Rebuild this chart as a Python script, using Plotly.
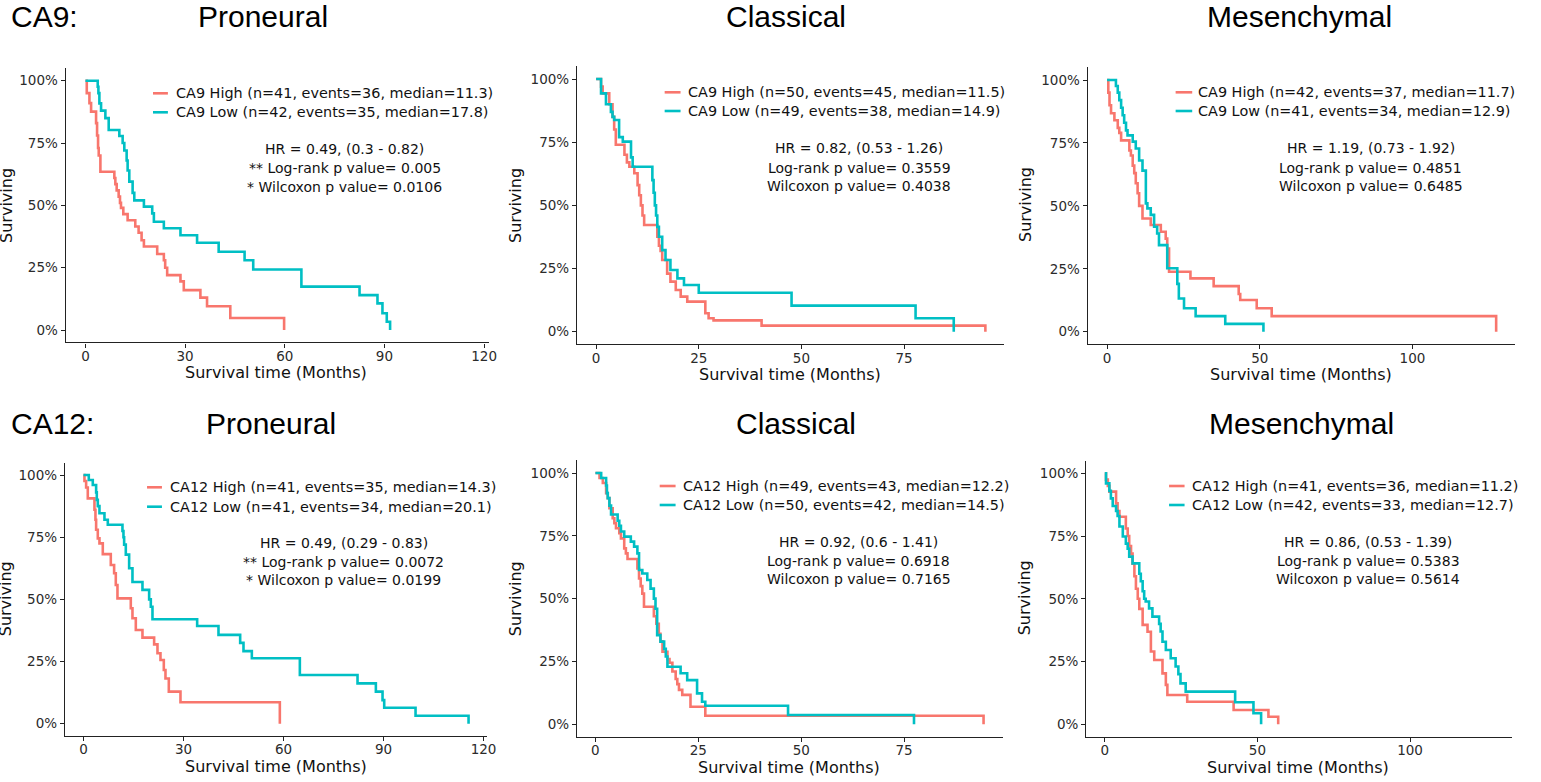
import plotly.graph_objects as go

W, H = 1541, 782
RED, TEAL = "#F8766D", "#00BFC4"

# ---------------- data (months, survival fraction) ----------------
# CA9 - Proneural
ca9_pn_high_t = [0, 0.4, 1.2, 1.7, 3.2, 3.5, 3.8, 4.0, 4.5, 8.7, 9.0, 9.4, 10.0, 10.4, 10.7, 11.4, 12.7, 15.0, 16.0, 16.9, 17.6, 21.6, 23.6, 24.0, 24.6, 28.6, 29.6, 34.6, 36.6, 43.6, 59.8]
ca9_pn_high_s = [1, 0.95, 0.91, 0.876, 0.83, 0.78, 0.73, 0.70, 0.635, 0.61, 0.585, 0.56, 0.535, 0.51, 0.49, 0.465, 0.44, 0.415, 0.39, 0.36, 0.335, 0.305, 0.28, 0.25, 0.22, 0.195, 0.16, 0.13, 0.095, 0.048, 0.0]
ca9_pn_low_t = [0, 3.7, 3.9, 4.2, 4.7, 6.0, 7.0, 10.2, 11.2, 11.7, 12.4, 12.7, 13.2, 14.2, 14.7, 17.6, 20.1, 20.6, 23.6, 28.6, 33.6, 40.1, 47.9, 50.5, 65.0, 82.5, 87.9, 89.4, 90.7, 91.7]
ca9_pn_low_s = [1, 0.976, 0.95, 0.909, 0.88, 0.85, 0.802, 0.778, 0.75, 0.72, 0.68, 0.64, 0.595, 0.55, 0.52, 0.495, 0.468, 0.434, 0.408, 0.38, 0.35, 0.314, 0.28, 0.243, 0.174, 0.14, 0.107, 0.067, 0.033, 0.0]
# CA9 - Classical
ca9_cl_high_t = [0, 1.2, 1.6, 3.2, 4.0, 4.4, 4.8, 6.9, 7.5, 8.1, 9.3, 10.1, 10.5, 10.9, 11.3, 11.7, 14.9, 15.3, 15.7, 16.1, 17.3, 18.1, 19.4, 20.6, 22.2, 26.6, 27.4, 28.6, 40.3, 94.8]
ca9_cl_high_s = [1, 0.97, 0.943, 0.90, 0.85, 0.80, 0.74, 0.70, 0.67, 0.653, 0.627, 0.58, 0.54, 0.50, 0.46, 0.422, 0.376, 0.34, 0.32, 0.284, 0.23, 0.198, 0.165, 0.139, 0.119, 0.073, 0.053, 0.045, 0.024, 0.0]
ca9_cl_low_t = [0, 1.2, 2.4, 3.6, 4.0, 4.4, 5.6, 6.5, 8.5, 8.9, 13.7, 14.0, 14.3, 14.6, 14.9, 15.3, 16.1, 16.9, 18.1, 19.8, 21.4, 25.0, 47.6, 77.8, 87.1]
ca9_cl_low_s = [1, 0.943, 0.90, 0.87, 0.85, 0.838, 0.77, 0.752, 0.69, 0.653, 0.60, 0.55, 0.50, 0.46, 0.415, 0.376, 0.323, 0.284, 0.244, 0.211, 0.185, 0.154, 0.103, 0.053, 0.0]
# CA9 - Mesenchymal
ca9_me_high_t = [0, 0.4, 0.8, 1.3, 2.4, 3.5, 4.0, 4.6, 7.3, 7.8, 8.4, 8.9, 9.4, 10.0, 10.5, 11.6, 14.3, 17.6, 19.2, 19.7, 20.3, 27.3, 34.9, 43.1, 43.6, 49.0, 53.9, 127.4]
ca9_me_high_s = [1, 0.95, 0.90, 0.868, 0.84, 0.81, 0.79, 0.76, 0.72, 0.70, 0.66, 0.63, 0.59, 0.55, 0.50, 0.45, 0.424, 0.397, 0.37, 0.33, 0.238, 0.212, 0.181, 0.15, 0.126, 0.093, 0.062, 0.0]
ca9_me_low_t = [0, 2.9, 3.5, 4.0, 4.6, 5.1, 5.6, 6.2, 6.7, 8.4, 9.4, 10.5, 11.6, 12.7, 13.2, 14.3, 15.4, 16.4, 17.0, 19.7, 23.0, 23.5, 25.2, 29.0, 38.7, 51.2]
ca9_me_low_s = [1, 0.976, 0.95, 0.92, 0.89, 0.86, 0.83, 0.80, 0.78, 0.755, 0.728, 0.68, 0.64, 0.51, 0.49, 0.464, 0.417, 0.39, 0.344, 0.252, 0.19, 0.132, 0.093, 0.062, 0.031, 0.0]
# CA12 - Proneural
ca12_pn_high_t = [0, 0.3, 0.8, 1.3, 3.3, 3.6, 3.8, 4.3, 4.8, 5.8, 8.2, 9.2, 9.7, 10.2, 14.2, 14.7, 15.7, 17.7, 21.2, 22.2, 23.1, 24.1, 24.6, 25.6, 29.1, 58.9]
ca12_pn_high_s = [1, 0.976, 0.95, 0.906, 0.86, 0.82, 0.78, 0.745, 0.725, 0.682, 0.638, 0.605, 0.558, 0.504, 0.464, 0.424, 0.377, 0.346, 0.319, 0.283, 0.256, 0.216, 0.182, 0.129, 0.086, 0.0]
ca12_pn_low_t = [0, 1.6, 2.8, 3.8, 4.0, 4.3, 4.8, 6.3, 7.3, 11.7, 12.0, 12.2, 12.7, 13.7, 14.7, 17.7, 19.7, 20.2, 20.7, 34.1, 40.5, 47.0, 48.0, 50.5, 64.9, 82.2, 87.7, 89.7, 90.2, 99.6, 115.5]
ca12_pn_low_s = [1, 0.98, 0.96, 0.93, 0.90, 0.875, 0.846, 0.82, 0.80, 0.775, 0.75, 0.72, 0.68, 0.625, 0.57, 0.538, 0.50, 0.47, 0.42, 0.393, 0.357, 0.325, 0.292, 0.263, 0.196, 0.162, 0.129, 0.095, 0.064, 0.032, 0.0]
# CA12 - Classical
ca12_cl_high_t = [0, 1.0, 1.8, 2.6, 3.0, 3.4, 4.2, 4.6, 5.0, 5.8, 6.2, 7.0, 7.4, 7.8, 10.2, 10.6, 11.0, 11.4, 11.8, 14.2, 14.8, 15.4, 15.8, 16.3, 17.5, 18.0, 18.7, 19.5, 19.9, 20.3, 21.1, 23.1, 26.7, 94.3]
ca12_cl_high_s = [1, 0.98, 0.96, 0.92, 0.90, 0.86, 0.82, 0.80, 0.78, 0.76, 0.74, 0.70, 0.68, 0.658, 0.62, 0.58, 0.55, 0.52, 0.468, 0.43, 0.40, 0.36, 0.33, 0.289, 0.26, 0.245, 0.21, 0.18, 0.16, 0.137, 0.117, 0.07, 0.034, 0.0]
ca12_cl_low_t = [0, 1.4, 2.6, 2.8, 3.0, 3.4, 3.8, 5.4, 5.8, 6.2, 7.0, 8.6, 9.4, 10.2, 10.6, 11.4, 12.6, 13.4, 14.2, 14.6, 15.0, 15.8, 16.7, 17.1, 17.5, 20.7, 22.3, 24.7, 25.9, 26.7, 46.8, 77.4]
ca12_cl_low_s = [1, 0.98, 0.95, 0.92, 0.90, 0.87, 0.835, 0.81, 0.79, 0.767, 0.747, 0.727, 0.707, 0.68, 0.614, 0.60, 0.574, 0.54, 0.50, 0.46, 0.355, 0.329, 0.30, 0.27, 0.229, 0.203, 0.176, 0.123, 0.09, 0.074, 0.037, 0.0]
# CA12 - Mesenchymal
ca12_me_high_t = [0, 0.4, 1.0, 1.5, 3.7, 4.2, 4.8, 6.9, 7.5, 8.0, 8.6, 9.1, 9.7, 10.2, 10.8, 11.3, 12.4, 14.0, 15.1, 16.2, 18.9, 20.0, 20.5, 27.0, 42.2, 53.6, 56.8]
ca12_me_high_s = [1, 0.975, 0.95, 0.927, 0.88, 0.85, 0.827, 0.78, 0.75, 0.71, 0.68, 0.64, 0.59, 0.54, 0.50, 0.46, 0.396, 0.369, 0.29, 0.256, 0.203, 0.157, 0.117, 0.09, 0.057, 0.03, 0.0]
ca12_me_low_t = [0, 0.4, 1.5, 2.0, 2.6, 3.7, 4.2, 4.8, 5.9, 6.9, 7.5, 8.0, 9.1, 11.3, 11.8, 12.4, 12.9, 13.4, 14.5, 15.6, 17.8, 18.3, 18.9, 20.0, 21.6, 23.2, 24.1, 24.8, 26.5, 42.7, 48.7, 51.2]
ca12_me_low_s = [1, 0.96, 0.93, 0.90, 0.87, 0.85, 0.83, 0.788, 0.748, 0.72, 0.70, 0.668, 0.641, 0.60, 0.57, 0.53, 0.50, 0.489, 0.462, 0.429, 0.40, 0.37, 0.329, 0.296, 0.263, 0.23, 0.20, 0.163, 0.13, 0.088, 0.044, 0.0]

legend_labels = [
    ["CA9 High (n=41, events=36, median=11.3)", "CA9 Low (n=42, events=35, median=17.8)"],
    ["CA9 High (n=50, events=45, median=11.5)", "CA9 Low (n=49, events=38, median=14.9)"],
    ["CA9 High (n=42, events=37, median=11.7)", "CA9 Low (n=41, events=34, median=12.9)"],
    ["CA12 High (n=41, events=35, median=14.3)", "CA12 Low (n=41, events=34, median=20.1)"],
    ["CA12 High (n=49, events=43, median=12.2)", "CA12 Low (n=50, events=42, median=14.5)"],
    ["CA12 High (n=41, events=36, median=11.2)", "CA12 Low (n=42, events=33, median=12.7)"],
]
stats_text = [
    ["HR = 0.49, (0.3 - 0.82)", "** Log-rank p value= 0.005", "* Wilcoxon p value= 0.0106"],
    ["HR = 0.82, (0.53 - 1.26)", "Log-rank p value= 0.3559", "Wilcoxon p value= 0.4038"],
    ["HR = 1.19, (0.73 - 1.92)", "Log-rank p value= 0.4851", "Wilcoxon p value= 0.6485"],
    ["HR = 0.49, (0.29 - 0.83)", "** Log-rank p value= 0.0072", "* Wilcoxon p value= 0.0199"],
    ["HR = 0.92, (0.6 - 1.41)", "Log-rank p value= 0.6918", "Wilcoxon p value= 0.7165"],
    ["HR = 0.86, (0.53 - 1.39)", "Log-rank p value= 0.5383", "Wilcoxon p value= 0.5614"],
]
x_ticks = [[0, 30, 60, 90, 120], [0, 25, 50, 75], [0, 50, 100],
           [0, 30, 60, 90, 120], [0, 25, 50, 75], [0, 50, 100]]
y_ticks = [0, 0.25, 0.5, 0.75, 1.0]
y_tick_labels = ["0%", "25%", "50%", "75%", "100%"]
row_labels = ["CA9:", "CA12:"]
subtypes = ["Proneural", "Classical", "Mesenchymal"]

curves = [
    (ca9_pn_high_t, ca9_pn_high_s, ca9_pn_low_t, ca9_pn_low_s),
    (ca9_cl_high_t, ca9_cl_high_s, ca9_cl_low_t, ca9_cl_low_s),
    (ca9_me_high_t, ca9_me_high_s, ca9_me_low_t, ca9_me_low_s),
    (ca12_pn_high_t, ca12_pn_high_s, ca12_pn_low_t, ca12_pn_low_s),
    (ca12_cl_high_t, ca12_cl_high_s, ca12_cl_low_t, ca12_cl_low_s),
    (ca12_me_high_t, ca12_me_high_s, ca12_me_low_t, ca12_me_low_s),
]

# ---------------- layout geometry (pixels) ----------------
geo = [
    dict(left=66, right=492, x0=86, ppm=3.344, p100=80.7, p0=330.0,
         leg=(154, 169, 175, 93.3, 112.3), st=(347, 149, 168.3, 186.7), xt=(278.3, 372.5), yt=(6, 205)),
    dict(left=580.7, right=1011, x0=600, ppm=4.133, p100=79.0, p0=331.7,
         leg=(669, 685, 690, 92.3, 111.0), st=(865, 148.3, 167.7, 186.0), xt=(795.5, 374), yt=(518.3, 205)),
    dict(left=1094.7, right=1525, x0=1114.3, ppm=3.074, p100=80.0, p0=331.7,
         leg=(1183.3, 1200, 1204.3, 92.3, 111.0), st=(1379.5, 148.3, 167.7, 186.0), xt=(1309.3, 374), yt=(1031.7, 205)),
    dict(left=65.3, right=490, x0=84, ppm=3.356, p100=475.0, p0=723.7,
         leg=(148, 163, 169, 487.3, 506.7), st=(345.8, 542.7, 562.0, 580.3), xt=(277.3, 766), yt=(5, 598.3)),
    dict(left=580.7, right=1009.3, x0=599.3, ppm=4.143, p100=473.0, p0=724.3,
         leg=(664, 680, 685.7, 486.0, 505.0), st=(864.5, 542.0, 561.0, 579.3), xt=(794, 767.3), yt=(518.3, 598.3)),
    dict(left=1093.3, right=1521.7, x0=1112, ppm=3.073, p100=473.3, p0=724.3,
         leg=(1176.7, 1192.3, 1197.7, 486.0, 505.0), st=(1377, 542.0, 561.0, 579.3), xt=(1306.7, 767.3), yt=(1030.7, 598.3)),
]
TFONT = "Liberation Sans, Arial"
titles_pos = [(9, 17, "left"), (264.7, 17, "center"), (791, 17, "center"), (1308, 17, "center"),
              (9, 423, "left"), (272.3, 423, "center"), (801.5, 423, "center"), (1310, 423, "center")]

YMIN, YMAX = -0.05, 1.05
FONT = "DejaVu Sans"
AXC = "#222222"


def px(x):
    return x / W


def py(y):
    return 1 - y / H


fig = go.Figure()
annotations, shapes = [], []
layout_axes = {}

for i, (g, cv) in enumerate(zip(geo, curves)):
    n = i + 1
    xa = "x" if n == 1 else f"x{n}"
    ya = "y" if n == 1 else f"y{n}"
    ht, hs, lt, ls = cv
    fig.add_trace(go.Scatter(x=ht, y=hs, mode="lines", line=dict(color=RED, width=2.6, shape="hv"),
                             xaxis=xa, yaxis=ya, showlegend=False, hoverinfo="skip"))
    fig.add_trace(go.Scatter(x=lt, y=ls, mode="lines", line=dict(color=TEAL, width=2.6, shape="hv"),
                             xaxis=xa, yaxis=ya, showlegend=False, hoverinfo="skip"))

    unit = g["p0"] - g["p100"]
    top = g["p0"] - YMAX * unit
    bot = g["p0"] - YMIN * unit
    xr = [(g["left"] - g["x0"]) / g["ppm"], (g["right"] - g["x0"]) / g["ppm"]]

    common = dict(showline=True, linecolor=AXC, linewidth=1.1, ticks="outside", ticklen=4,
                  tickcolor=AXC, tickwidth=1.1, showgrid=False, zeroline=False,
                  tickfont=dict(family=FONT, size=13.5, color="#2b2b2b"), fixedrange=True)
    layout_axes["xaxis" if n == 1 else f"xaxis{n}"] = dict(
        common, domain=[px(g["left"]), px(g["right"])], range=xr, anchor=ya,
        tickvals=x_ticks[i], ticktext=[str(v) for v in x_ticks[i]], ticklabelstandoff=-3)
    layout_axes["yaxis" if n == 1 else f"yaxis{n}"] = dict(
        common, domain=[py(bot), py(top)], range=[YMIN, YMAX], anchor=xa,
        tickvals=y_ticks, ticktext=y_tick_labels)

    k1, k2, tx, y1, y2 = g["leg"]
    for yy, col, lab in [(y1, RED, legend_labels[i][0]), (y2, TEAL, legend_labels[i][1])]:
        shapes.append(dict(type="line", xref="paper", yref="paper", x0=px(k1), x1=px(k2),
                           y0=py(yy), y1=py(yy), line=dict(color=col, width=2.6)))
        annotations.append(dict(x=px(tx), y=py(yy), xref="paper", yref="paper", text=lab,
                                showarrow=False, xanchor="left", yanchor="middle",
                                font=dict(family=FONT, size=14.4, color="#111")))
    sx = g["st"][0]
    for k, yy in enumerate(g["st"][1:]):
        annotations.append(dict(x=px(sx), y=py(yy), xref="paper", yref="paper", text=stats_text[i][k],
                                showarrow=False, xanchor="center", yanchor="middle",
                                font=dict(family=FONT, size=14, color="#111")))
    annotations.append(dict(x=px(g["xt"][0]), y=py(g["xt"][1]), xref="paper", yref="paper",
                            text="Survival time (Months)", showarrow=False, xanchor="center",
                            yanchor="middle", font=dict(family=FONT, size=16, color="#111")))
    annotations.append(dict(x=px(g["yt"][0]), y=py(g["yt"][1]), xref="paper", yref="paper",
                            text="Surviving", showarrow=False, xanchor="center", yanchor="middle",
                            textangle=-90, font=dict(family=FONT, size=16, color="#111")))

title_texts = [row_labels[0]] + subtypes + [row_labels[1]] + subtypes
for (tx, ty, anc), txt in zip(titles_pos, title_texts):
    annotations.append(dict(x=px(tx), y=py(ty), xref="paper", yref="paper", text=txt,
                            showarrow=False, xanchor=anc, yanchor="middle",
                            font=dict(family=TFONT, size=30, color="#000")))

fig.update_layout(width=W, height=H, margin=dict(l=0, r=0, t=0, b=0),
                  paper_bgcolor="white", plot_bgcolor="white",
                  annotations=annotations, shapes=shapes, showlegend=False, **layout_axes)

fig.write_html("out.html", config={"displayModeBar": False},
               post_script="document.body.style.margin='0px';document.body.style.overflow='hidden';")
